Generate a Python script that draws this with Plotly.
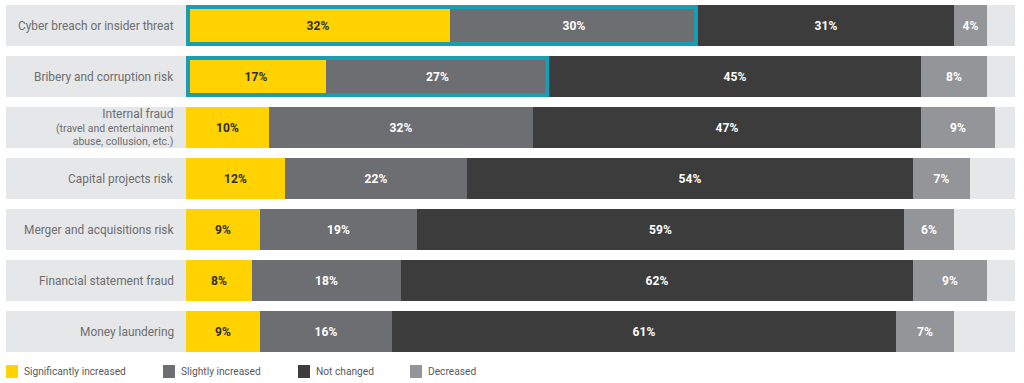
import plotly.graph_objects as go

categories = [
    "Cyber breach or insider threat",
    "Bribery and corruption risk",
    "<span style='font-size:12px'>Internal fraud</span><br>(travel and entertainment<br>abuse, collusion, etc.)",
    "Capital projects risk",
    "Merger and acquisitions risk",
    "Financial statement fraud",
    "Money laundering",
]
series_names = ["Significantly increased", "Slightly increased", "Not changed", "Decreased"]
significantly_increased = [32, 17, 10, 12, 9, 8, 9]
slightly_increased = [30, 27, 32, 22, 19, 18, 16]
not_changed = [31, 45, 47, 54, 59, 62, 61]
decreased = [4, 8, 9, 7, 6, 9, 7]
highlighted_rows = [0, 1]

series_values = [significantly_increased, slightly_increased, not_changed, decreased]
colors = ["#FFD200", "#6D6E71", "#3C3C3C", "#939598"]
text_colors = ["#2E2E2E", "#FFFFFF", "#FFFFFF", "#FFFFFF"]
band_color = "#E6E7E8"
teal = "#1A9DB0"
label_color = "#6D6E71"
FONT = "Roboto"

W, H = 1024, 383
ml, mr, mt, mb = 6, 9, 0, 26
xmin, xmax = -21.8, 100.4
px_per_x = (W - ml - mr) / (xmax - xmin)
px_per_y = (H - mt - mb) / 7.0
bar_w = 0.805

ys = list(range(len(categories)))

fig = go.Figure()
for name, vals, col, tcol in zip(series_names, series_values, colors, text_colors):
    fig.add_trace(go.Bar(
        y=ys, x=vals, orientation="h", name=name,
        marker=dict(color=col, line=dict(width=0)),
        width=bar_w,
        text=[f"{v}%" for v in vals],
        textposition="inside", insidetextanchor="middle", textangle=0,
        textfont=dict(family=FONT, size=12, color=tcol, weight="bold"),
        showlegend=False, hoverinfo="skip",
    ))

shapes = []
for i in ys:
    shapes.append(dict(type="rect", xref="paper", yref="y", x0=0, x1=1,
                       y0=i - bar_w / 2, y1=i + bar_w / 2,
                       fillcolor=band_color, line=dict(width=0), layer="below"))

lw = 4
dx = (lw / 2) / px_per_x
dy = (lw / 2) / px_per_y
for i in highlighted_rows:
    end = significantly_increased[i] + slightly_increased[i]
    shapes.append(dict(type="rect", xref="x", yref="y", x0=0 + dx, x1=end - dx,
                       y0=i - bar_w / 2 + dy, y1=i + bar_w / 2 - dy,
                       line=dict(color=teal, width=lw), fillcolor="rgba(0,0,0,0)", layer="above"))

annotations = []
for i, cat in zip(ys, categories):
    size = 10.5 if "<br>" in cat else 11.9
    annotations.append(dict(x=-1.2, y=i, xref="x", yref="y", text=cat, showarrow=False,
                            xanchor="right", yanchor="middle", align="right",
                            font=dict(family=FONT, size=size, color=label_color)))

# manual legend
legend_x = [6, 163, 298, 410]
sq = 12
for name, col, lx in zip(series_names, colors, legend_x):
    x0p = (lx - ml) / (W - ml - mr)
    x1p = (lx + sq - ml) / (W - ml - mr)
    y0p = (H - mb - 365) / (H - mt - mb)
    y1p = (H - mb - 378) / (H - mt - mb)
    shapes.append(dict(type="rect", xref="paper", yref="paper", x0=x0p, x1=x1p,
                       y0=y1p, y1=y0p, fillcolor=col, line=dict(width=0)))
    annotations.append(dict(x=(lx + sq + 4 - ml) / (W - ml - mr),
                            y=(H - mb - 371.5) / (H - mt - mb),
                            xref="paper", yref="paper", text=name, showarrow=False,
                            xanchor="left", yanchor="middle",
                            font=dict(family=FONT, size=10.2, color="#58595B")))

fig.update_layout(
    width=W, height=H, barmode="stack", bargap=0,
    margin=dict(l=ml, r=mr, t=mt, b=mb),
    paper_bgcolor="white", plot_bgcolor="white",
    xaxis=dict(range=[xmin, xmax], visible=False, fixedrange=True),
    yaxis=dict(range=[6.5, -0.5], visible=False, fixedrange=True),
    shapes=shapes, annotations=annotations,
    uniformtext=dict(minsize=8, mode="show"),
)
fig.write_html("out.html", config={"displayModeBar": False},
               post_script="document.body.style.margin='0';document.body.style.overflow='hidden';")
